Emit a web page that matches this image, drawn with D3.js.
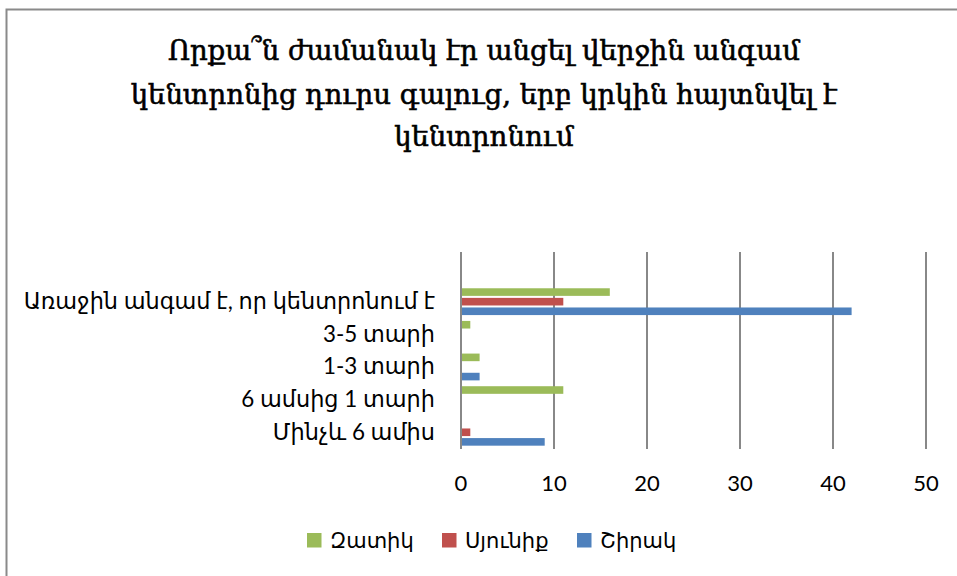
<!DOCTYPE html>
<html>
<head>
<meta charset="utf-8">
<script src="https://cdn.jsdelivr.net/npm/d3@7"></script>
<style>
  html, body { margin: 0; padding: 0; background: #fff; }
  svg { display: block; }
</style>
</head>
<body>
<svg id="chart" width="957" height="576"></svg>
<script>
// ---- data ----
const titleLines = [
  "Որքա՞ն ժամանակ էր անցել վերջին անգամ",
  "կենտրոնից դուրս գալուց, երբ կրկին հայտնվել է",
  "կենտրոնում"
];
// categories listed top to bottom (top slot is an empty category)
const categories = ["", "Առաջին անգամ է, որ կենտրոնում է", "3-5 տարի", "1-3 տարի", "6 ամսից 1 տարի", "Մինչև 6 ամիս"];
const seriesNames = ["Զատիկ", "Սյունիք", "Շիրակ"];
const seriesColors = ["#9BBB59", "#C0504D", "#4F81BD"];
const zatik   = [null, 16, 1, 2, 11, 0];
const syunik  = [null, 11, 0, 0, 0, 1];
const shirak  = [null, 42, 0, 2, 0, 9];
const xTicks = [0, 10, 20, 30, 40, 50];

const seriesValues = [zatik, syunik, shirak];

const svg = d3.select("#chart");

// border
svg.append("path")
  .attr("d", "M6.5,576 L6.5,9.5 L957,9.5")
  .attr("fill", "none")
  .attr("stroke", "#8a8a8a")
  .attr("stroke-width", 2);

// title
const title = svg.append("text")
  .attr("text-anchor", "middle")
  .attr("font-family", "'DejaVu Serif', serif")
  .attr("font-size", 27.5)
  .attr("fill", "#000")
  .attr("stroke", "#000")
  .attr("stroke-width", 0.6);
const titleY = [60, 104, 146];
titleLines.forEach((t, i) => {
  title.append("tspan").attr("x", 484).attr("y", titleY[i]).text(t);
});

// scales
const x = d3.scaleLinear().domain([0, 50]).range([461, 926]);
const y0 = d3.scaleBand().domain(categories).range([252.7, 448.6]);
const y1 = d3.scaleBand().domain(seriesNames).range([0, y0.bandwidth()])
  .paddingInner(0).paddingOuter(0.2);

// gridlines
const g = svg.append("g");
g.selectAll("line.grid").data(xTicks).join("line")
  .attr("class", "grid")
  .attr("x1", d => x(d)).attr("x2", d => x(d))
  .attr("y1", 252).attr("y2", 449)
  .attr("stroke", "#888").attr("stroke-width", 2);

g.selectAll("text.tick").data(xTicks).join("text")
  .attr("class", "tick")
  .attr("x", d => x(d)).attr("y", 491)
  .attr("text-anchor", "middle")
  .attr("font-family", "Lato, 'DejaVu Sans', sans-serif")
  .attr("font-size", 22)
  .attr("fill", "#000")
  .text(d => d);

// bars
const bars = svg.append("g");
seriesNames.forEach((s, si) => {
  const data = categories.map((c, ci) => ({ c, v: seriesValues[si][ci] }))
    .filter(d => d.v);
  bars.selectAll("rect.s" + si).data(data).join("rect")
    .attr("class", "s" + si)
    .attr("x", x(0) + 1)
    .attr("y", d => y0(d.c) + y1(s) + 1)
    .attr("width", d => x(d.v) - x(0) - 1)
    .attr("height", y1.bandwidth() - 2)
    .attr("fill", seriesColors[si]);
});

// category labels
svg.append("g").selectAll("text").data(categories).join("text")
  .attr("x", 435)
  .attr("y", d => y0(d) + y0.bandwidth() / 2 + 7.5)
  .attr("text-anchor", "end")
  .attr("font-family", "Lato, 'DejaVu Sans', sans-serif")
  .attr("font-size", 22.4)
  .attr("fill", "#000")
  .text(d => d);

// legend
const legendX = [307, 442, 577];
const lg = svg.append("g");
seriesNames.forEach((s, i) => {
  lg.append("rect")
    .attr("x", legendX[i]).attr("y", 533)
    .attr("width", 14.5).attr("height", 14.5)
    .attr("fill", seriesColors[i]);
  lg.append("text")
    .attr("x", legendX[i] + 23).attr("y", 547.5)
    .attr("font-family", "'DejaVu Sans', sans-serif")
    .attr("font-size", 21)
    .attr("fill", "#000")
    .text(s);
});
</script>
</body>
</html>
